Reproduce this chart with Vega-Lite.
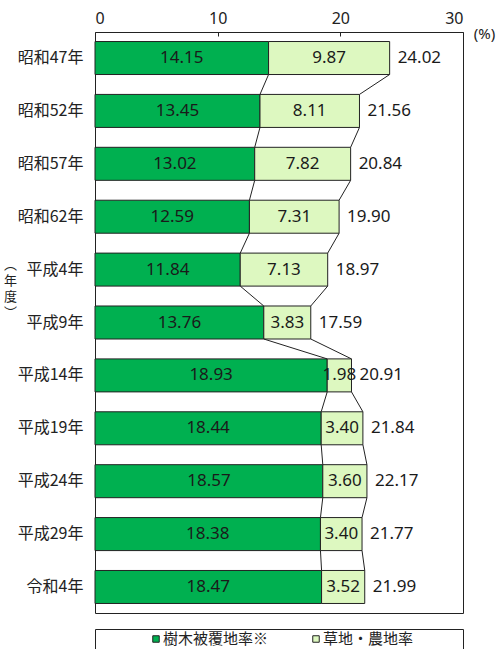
{
  "$schema": "https://vega.github.io/schema/vega-lite/v6.json",
  "padding": {"left": 2, "top": 9, "right": 0, "bottom": 0},
  "spacing": 14,
  "config": {"view": {"stroke": "#222", "strokeWidth": 1}, "font": "Noto Sans CJK JP"},
  "datasets": {
    "main": [
      {"年度": "昭和47年", "樹木被覆地率※": 14.15, "草地・農地率": 9.87, "合計": 24.02},
      {"年度": "昭和52年", "樹木被覆地率※": 13.45, "草地・農地率": 8.11, "合計": 21.56},
      {"年度": "昭和57年", "樹木被覆地率※": 13.02, "草地・農地率": 7.82, "合計": 20.84},
      {"年度": "昭和62年", "樹木被覆地率※": 12.59, "草地・農地率": 7.31, "合計": 19.90},
      {"年度": "平成4年", "樹木被覆地率※": 11.84, "草地・農地率": 7.13, "合計": 18.97},
      {"年度": "平成9年", "樹木被覆地率※": 13.76, "草地・農地率": 3.83, "合計": 17.59},
      {"年度": "平成14年", "樹木被覆地率※": 18.93, "草地・農地率": 1.98, "合計": 20.91},
      {"年度": "平成19年", "樹木被覆地率※": 18.44, "草地・農地率": 3.40, "合計": 21.84},
      {"年度": "平成24年", "樹木被覆地率※": 18.57, "草地・農地率": 3.60, "合計": 22.17},
      {"年度": "平成29年", "樹木被覆地率※": 18.38, "草地・農地率": 3.40, "合計": 21.77},
      {"年度": "令和4年", "樹木被覆地率※": 18.47, "草地・農地率": 3.52, "合計": 21.99}
    ],
    "legend": [
      {"系列": "樹木被覆地率※"},
      {"系列": "草地・農地率"}
    ]
  },
  "vconcat": [
    {
      "width": 368,
      "height": 581,
      "data": {"name": "main"},
      "transform": [
        {"window": [
          {"op": "lead", "field": "年度", "as": "次年度"},
          {"op": "lead", "field": "樹木被覆地率※", "as": "次樹木"},
          {"op": "lead", "field": "合計", "as": "次合計"}
        ]},
        {"calculate": "datum['樹木被覆地率※'] / 2", "as": "樹木中央"},
        {"calculate": "(datum['樹木被覆地率※'] + datum['合計']) / 2", "as": "草地中央"}
      ],
      "encoding": {
        "y": {
          "field": "年度", "type": "nominal", "sort": null,
          "scale": {
            "domain": ["昭和47年", "昭和52年", "昭和57年", "昭和62年", "平成4年", "平成9年", "平成14年", "平成19年", "平成24年", "平成29年", "令和4年"],
            "paddingInner": 0.376, "paddingOuter": 0.18
          },
          "axis": {
            "title": ["︵", "年", "度", "︶"],
            "titleAngle": 0, "titleX": -85, "titleY": 232, "titleAlign": "center", "titleBaseline": "middle",
            "titleFont": "Noto Sans CJK JP", "titleFontSize": 13, "titleFontWeight": "normal", "titleLineHeight": 16, "titleColor": "#222",
            "labelFont": "Noto Sans CJK JP", "labelFontSize": 16, "labelColor": "#222", "labelPadding": 12,
            "ticks": false, "domain": false
          }
        }
      },
      "layer": [
        {
          "mark": {"type": "bar", "color": "#00b050", "stroke": "#222", "strokeWidth": 1},
          "encoding": {
            "x": {
              "field": "樹木被覆地率※", "type": "quantitative",
              "scale": {"domain": [0, 30], "nice": false},
              "axis": {
                "orient": "top", "values": [0, 10, 20, 30], "grid": false, "domain": false,
                "tickSize": -4, "tickColor": "#222", "labelPadding": 10,
                "labelFont": "Noto Sans", "labelFontSize": 16, "labelColor": "#222",
                "title": "(%)", "titleX": 389, "titleY": 1, "titleAngle": 0, "titleAlign": "center", "titleBaseline": "middle",
                "titleFont": "Noto Sans", "titleFontSize": 15, "titleFontWeight": "normal", "titleColor": "#222"
              }
            }
          }
        },
        {
          "mark": {"type": "bar", "color": "#ddf8c0", "stroke": "#222", "strokeWidth": 1},
          "encoding": {
            "x": {"field": "樹木被覆地率※", "type": "quantitative"},
            "x2": {"field": "合計"}
          }
        },
        {
          "transform": [{"filter": "datum['次年度'] != null"}],
          "mark": {"type": "rule", "color": "#222", "strokeWidth": 1},
          "encoding": {
            "y": {"field": "年度", "type": "nominal", "sort": null, "bandPosition": 1},
            "y2": {"field": "次年度", "bandPosition": 0},
            "x": {"field": "樹木被覆地率※", "type": "quantitative"},
            "x2": {"field": "次樹木"}
          }
        },
        {
          "transform": [{"filter": "datum['次年度'] != null"}],
          "mark": {"type": "rule", "color": "#222", "strokeWidth": 1},
          "encoding": {
            "y": {"field": "年度", "type": "nominal", "sort": null, "bandPosition": 1},
            "y2": {"field": "次年度", "bandPosition": 0},
            "x": {"field": "合計", "type": "quantitative"},
            "x2": {"field": "次合計"}
          }
        },
        {
          "mark": {"type": "text", "font": "Noto Sans", "fontSize": 17, "color": "#1a1a1a", "align": "center", "baseline": "middle"},
          "encoding": {
            "x": {"field": "樹木中央", "type": "quantitative"},
            "text": {"field": "樹木被覆地率※", "type": "quantitative", "format": ".2f"}
          }
        },
        {
          "mark": {"type": "text", "font": "Noto Sans", "fontSize": 17, "color": "#1a1a1a", "align": "center", "baseline": "middle"},
          "encoding": {
            "x": {"field": "草地中央", "type": "quantitative"},
            "text": {"field": "草地・農地率", "type": "quantitative", "format": ".2f"}
          }
        },
        {
          "mark": {"type": "text", "font": "Noto Sans", "fontSize": 17, "color": "#1a1a1a", "align": "left", "baseline": "middle", "dx": 8},
          "encoding": {
            "x": {"field": "合計", "type": "quantitative"},
            "text": {"field": "合計", "type": "quantitative", "format": ".2f"}
          }
        }
      ]
    },
    {
      "width": 368,
      "height": 20,
      "data": {"name": "legend"},
      "encoding": {
        "x": {"field": "系列", "type": "nominal", "sort": null, "scale": {"type": "point", "padding": 0.65}, "axis": null}
      },
      "layer": [
        {
          "mark": {"type": "point", "shape": "square", "filled": true, "size": 42, "stroke": "#222", "strokeWidth": 1, "opacity": 1, "xOffset": -43},
          "encoding": {
            "color": {"field": "系列", "type": "nominal",
              "scale": {"domain": ["樹木被覆地率※", "草地・農地率"], "range": ["#00b050", "#ddf8c0"]},
              "legend": null}
          }
        },
        {
          "mark": {"type": "text", "align": "left", "baseline": "middle", "xOffset": -36, "font": "Noto Sans CJK JP", "fontSize": 15, "color": "#222"},
          "encoding": {"text": {"field": "系列"}}
        }
      ]
    }
  ]
}
